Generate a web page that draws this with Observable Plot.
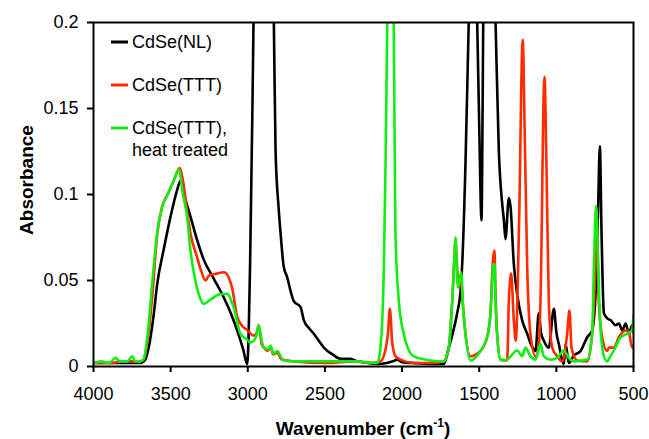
<!DOCTYPE html>
<html>
<head>
<meta charset="utf-8">
<script src="https://cdn.jsdelivr.net/npm/d3@7"></script>
<script src="https://cdn.jsdelivr.net/npm/@observablehq/plot@0.6"></script>
<style>
  body { margin: 0; background: white; }
</style>
</head>
<body>
<div id="chart"></div>
<script>
// ---- data ----
const xTicks = [4000, 3500, 3000, 2500, 2000, 1500, 1000, 500];
const yTicks = [0, 0.05, 0.1, 0.15, 0.2];
const seriesNames = ["CdSe(NL)", "CdSe(TTT)", "CdSe(TTT), heat treated"];
const seriesColors = ["#000000", "#ff2a00", "#11ee11"];

const nlWn = [4000,3900,3800,3700,3665,3640,3610,3587,3545,3501,3460,3436,3410,3371,3330,3285,3220,3155,3110,3069,3030,3004,2985,2970,2960,2940,2920,2880,2850,2831,2820,2800,2788,2767,2745,2720,2702,2658,2637,2600,2572,2540,2507,2450,2399,2334,2290,2248,2161,2100,2060,2032,2000,1926,1800,1729,1697,1670,1643,1620,1610,1589,1574,1568,1550,1530,1513,1500,1485,1478,1474,1450,1420,1394,1373,1351,1340,1330,1308,1297,1276,1254,1222,1189,1160,1135,1114,1100,1081,1049,1016,1000,984,951,940,919,887,843,800,768,746,730,718,707,692,670,649,616,595,573,551,530,509,500];
const nlAbs = [0.002,0.002,0.002,0.002,0.004,0.012,0.030,0.048,0.068,0.087,0.102,0.108,0.099,0.087,0.074,0.062,0.051,0.040,0.031,0.021,0.010,0.0015,0.06,0.15,0.22,0.4,0.5,0.45,0.3,0.2,0.1255,0.092,0.078,0.058,0.052,0.043,0.038,0.0345,0.027,0.022,0.019,0.015,0.011,0.007,0.0045,0.0045,0.003,0.0025,0.0015,0.002,0.003,0.004,0.0025,0.002,0.0015,0.0015,0.011,0.02,0.031,0.045,0.06,0.118,0.176,0.2,0.3,0.3,0.2,0.14,0.085,0.15,0.2,0.3,0.3,0.2,0.1255,0.0945,0.085,0.074,0.098,0.093,0.060,0.042,0.027,0.019,0.012,0.009,0.031,0.02,0.015,0.011,0.0335,0.02,0.013,0.0015,0.013,0.002,0.0064,0.009,0.017,0.021,0.042,0.09,0.128,0.077,0.031,0.028,0.027,0.024,0.025,0.021,0.025,0.019,0.024,0.02];

const tttWn = [4000,3900,3800,3700,3676,3650,3620,3587,3555,3520,3480,3441,3420,3393,3371,3330,3300,3274,3250,3200,3155,3125,3100,3069,3040,3000,2963,2945,2929,2910,2896,2870,2853,2835,2810,2780,2700,2500,2300,2200,2140,2107,2092,2079,2064,2043,2010,1926,1800,1729,1697,1675,1660,1654,1645,1632,1617,1605,1589,1557,1492,1449,1427,1410,1401,1395,1384,1362,1319,1308,1293,1276,1263,1243,1218,1205,1189,1168,1135,1114,1103,1077,1064,1049,1027,995,962,930,915,902,865,800,768,746,742,725,703,671,660,627,595,551,530,509,500];
const tttAbs = [0.002,0.002,0.003,0.003,0.004,0.015,0.040,0.077,0.093,0.100,0.108,0.1154,0.108,0.090,0.077,0.064,0.055,0.050,0.053,0.054,0.0548,0.052,0.045,0.029,0.024,0.021,0.018,0.019,0.024,0.013,0.011,0.009,0.0115,0.007,0.008,0.004,0.003,0.002,0.003,0.002,0.003,0.010,0.019,0.0335,0.014,0.006,0.004,0.002,0.002,0.003,0.011,0.038,0.065,0.074,0.060,0.046,0.050,0.035,0.019,0.006,0.009,0.017,0.031,0.063,0.0674,0.045,0.019,0.004,0.0035,0.038,0.054,0.027,0.015,0.077,0.190,0.135,0.058,0.019,0.006,0.011,0.038,0.1685,0.116,0.038,0.011,0.006,0.003,0.019,0.0326,0.011,0.0035,0.003,0.019,0.067,0.0926,0.038,0.017,0.009,0.011,0.011,0.017,0.021,0.020,0.011,0.012];

const htWn = [4000,3950,3900,3857,3830,3780,3749,3730,3700,3676,3650,3620,3587,3555,3520,3480,3447,3420,3393,3371,3340,3310,3285,3240,3180,3133,3110,3092,3047,3010,2982,2960,2945,2929,2910,2896,2870,2853,2833,2810,2768,2700,2500,2300,2161,2140,2118,2107,2096,2085,2075,2062,2054,2043,2021,1989,1926,1816,1729,1697,1675,1660,1654,1645,1639,1617,1605,1589,1557,1492,1449,1427,1410,1401,1395,1384,1362,1341,1319,1254,1222,1200,1168,1135,1103,1081,1038,995,951,919,887,800,768,757,742,731,718,692,671,649,616,584,541,509,500];
const htAbs = [0.002,0.003,0.002,0.005,0.003,0.003,0.006,0.003,0.003,0.004,0.018,0.048,0.078,0.0926,0.100,0.108,0.1143,0.100,0.0868,0.067,0.050,0.040,0.0364,0.039,0.042,0.0422,0.039,0.0345,0.019,0.016,0.014,0.015,0.018,0.0238,0.015,0.011,0.010,0.0122,0.0075,0.009,0.0035,0.003,0.003,0.003,0.002,0.011,0.058,0.118,0.2,0.3,0.32,0.25,0.2,0.077,0.038,0.019,0.006,0.0035,0.003,0.011,0.038,0.065,0.0751,0.055,0.046,0.0548,0.035,0.019,0.0035,0.009,0.017,0.031,0.058,0.0597,0.040,0.019,0.004,0.0035,0.004,0.0093,0.006,0.011,0.006,0.004,0.013,0.006,0.004,0.005,0.0093,0.005,0.003,0.004,0.019,0.057,0.0935,0.067,0.029,0.006,0.003,0.006,0.0112,0.017,0.019,0.021,0.03];

// ---- build tables ----
const toRows = (wn, ab) => wn.map((w, i) => ({wn: w, abs: ab[i]}));
const nlData = toRows(nlWn, nlAbs);
const tttData = toRows(tttWn, tttAbs);
const htData = toRows(htWn, htAbs);

const FONT = "'Liberation Sans', Arial, Helvetica, sans-serif";
const lineOpts = (c) => ({x: "wn", y: "abs", stroke: c, strokeWidth: 2.6, clip: true, curve: "monotone-x", strokeLinejoin: "round"});

const svg = Plot.plot({
  width: 649,
  height: 439,
  marginLeft: 93,
  marginRight: 16,
  marginTop: 22,
  marginBottom: 73,
  style: {fontFamily: FONT, fontSize: "18px", background: "white", color: "black"},
  x: {domain: [4000, 500]},
  y: {domain: [0, 0.2]},
  marks: [
    Plot.line(nlData, lineOpts(seriesColors[0])),
    Plot.line(tttData, lineOpts(seriesColors[1])),
    Plot.line(htData, lineOpts(seriesColors[2])),
    Plot.frame({stroke: "black", strokeWidth: 2}),
    Plot.axisX(xTicks, {tickSize: 6, tickPadding: 15, strokeWidth: 2, fontSize: 18, label: null, tickFormat: d => String(d)}),
    Plot.axisY(yTicks, {tickSize: 6, tickPadding: 9, strokeWidth: 2, fontSize: 18, label: null, tickFormat: d => String(+d.toFixed(2))})
  ]
});

const s = d3.select(svg);
// x title with superscript
const xt = s.append("text")
  .attr("x", 363).attr("y", 435)
  .attr("text-anchor", "middle")
  .attr("font-family", FONT).attr("font-weight", "bold").attr("font-size", 19)
  .attr("fill", "black");
xt.append("tspan").text("Wavenumber (cm");
xt.append("tspan").attr("dy", -8).attr("font-size", 12).text("-1");
xt.append("tspan").attr("dy", 8).text(")");

// y title
s.append("text")
  .attr("transform", "translate(33,180) rotate(-90)")
  .attr("text-anchor", "middle")
  .attr("font-family", FONT).attr("font-weight", "bold").attr("font-size", 19)
  .attr("fill", "black")
  .text("Absorbance");

// legend
const legY = [42, 85, 128];
seriesNames.forEach((name, i) => {
  s.append("line")
    .attr("x1", 111).attr("x2", 128).attr("y1", legY[i]).attr("y2", legY[i])
    .attr("stroke", seriesColors[i]).attr("stroke-width", 3);
});
const legText = (txt, y) => s.append("text")
  .attr("x", 132).attr("y", y)
  .attr("text-anchor", "start")
  .attr("font-family", FONT).attr("font-size", 18)
  .attr("fill", "black")
  .text(txt);
legText("CdSe(NL)", 48);
legText("CdSe(TTT)", 91);
legText("CdSe(TTT),", 134);
legText("heat treated", 156);

document.getElementById("chart").appendChild(svg);
</script>
</body>
</html>
